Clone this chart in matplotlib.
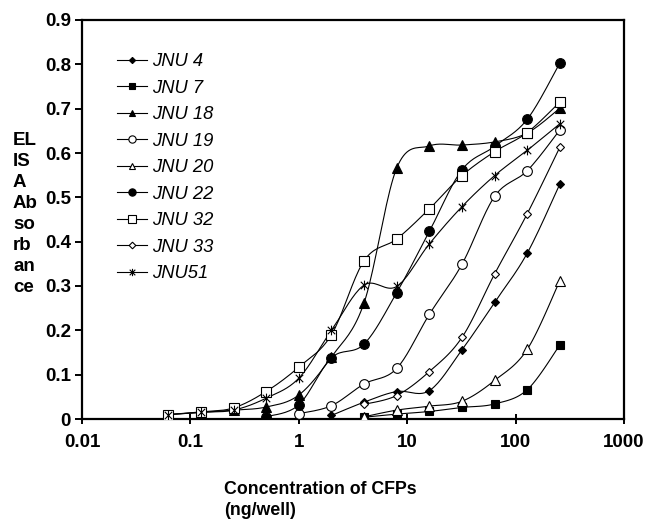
import numpy as np
import matplotlib
matplotlib.use('Agg')
import matplotlib.pyplot as plt
from matplotlib.path import Path
from matplotlib.ticker import FixedLocator, FixedFormatter, NullLocator
from matplotlib.lines import Line2D

# ---------------- data ----------------
conc = [0.0625, 0.125, 0.25, 0.5, 1, 2, 4, 8, 16, 32, 64, 128, 256]
n = np.nan
jnu4 = [n, n, n, n, n, 0.008, 0.038, 0.062, 0.064, 0.156, 0.263, 0.374, 0.530]
jnu7 = [n, n, n, n, n, n, 0.004, 0.011, 0.017, 0.026, 0.034, 0.066, 0.167]
jnu18 = [0.010, 0.015, 0.020, 0.027, 0.054, 0.140, 0.262, 0.566, 0.616, 0.618, 0.625, 0.645, 0.701]
jnu19 = [n, n, n, n, 0.012, 0.030, 0.079, 0.114, 0.236, 0.349, 0.502, 0.560, 0.652]
jnu20 = [n, n, n, n, n, n, 0.005, 0.020, 0.029, 0.040, 0.087, 0.157, 0.312]
jnu22 = [n, n, n, 0.005, 0.032, 0.138, 0.169, 0.285, 0.423, 0.562, 0.615, 0.676, 0.803]
jnu32 = [0.010, 0.016, 0.025, 0.062, 0.117, 0.190, 0.357, 0.406, 0.474, 0.549, 0.603, 0.646, 0.715]
jnu33 = [n, n, n, n, n, n, 0.033, 0.053, 0.107, 0.184, 0.327, 0.463, 0.613]
jnu51 = [0.010, 0.015, 0.020, 0.047, 0.092, 0.200, 0.302, 0.299, 0.395, 0.479, 0.549, 0.606, 0.666]

labels = ['JNU 4', 'JNU 7', 'JNU 18', 'JNU 19', 'JNU 20', 'JNU 22', 'JNU 32', 'JNU 33', 'JNU51']
series = [jnu4, jnu7, jnu18, jnu19, jnu20, jnu22, jnu32, jnu33, jnu51]

xticks = [0.01, 0.1, 1, 10, 100, 1000]
xticklabels = ['0.01', '0.1', '1', '10', '100', '1000']
yticks = [0, 0.1, 0.2, 0.3, 0.4, 0.5, 0.6, 0.7, 0.8, 0.9]
yticklabels = ['0', '0.1', '0.2', '0.3', '0.4', '0.5', '0.6', '0.7', '0.8', '0.9']

# ---------------- style ----------------
star_path = Path([(-1, -1), (1, 1), (-1, 1), (1, -1), (0, -1.3), (0, 1.3)],
                 [Path.MOVETO, Path.LINETO, Path.MOVETO, Path.LINETO, Path.MOVETO, Path.LINETO])
styles = [
    dict(marker='D', ms=4.2, mfc='black'),
    dict(marker='s', ms=6.0, mfc='black'),
    dict(marker='^', ms=6.5, mfc='black'),
    dict(marker='o', ms=7.0, mfc='white'),
    dict(marker='^', ms=6.5, mfc='white'),
    dict(marker='o', ms=7.0, mfc='black'),
    dict(marker='s', ms=7.0, mfc='white'),
    dict(marker='D', ms=4.5, mfc='white'),
    dict(marker=star_path, ms=7.0, mfc='black'),
]

plt.rcParams['font.family'] = ['Liberation Sans', 'DejaVu Sans']

fig = plt.figure(figsize=(6.47, 5.19), dpi=100)
ax = fig.add_axes([82 / 647, 1 - 419 / 519, (624 - 82) / 647, (419 - 20) / 519])
ax.set_xscale('log')
ax.set_xlim(0.01, 1000)
ax.set_ylim(0, 0.9)


def smooth(xs, ys, npts=20):
    """Catmull-Rom style smoothing done in display space."""
    pts = ax.transData.transform(np.column_stack([xs, ys]))
    m = len(pts)
    if m < 3:
        return xs, ys
    out = [pts[0]]
    for i in range(m - 1):
        p0 = pts[i - 1] if i > 0 else pts[i]
        p1 = pts[i]
        p2 = pts[i + 1]
        p3 = pts[i + 2] if i + 2 < m else pts[i + 1]
        c1 = p1 + (p2 - p0) / 6.0
        c2 = p2 - (p3 - p1) / 6.0
        t = np.linspace(0, 1, npts)[1:, None]
        seg = ((1 - t) ** 3) * p1 + 3 * ((1 - t) ** 2) * t * c1 + 3 * (1 - t) * t ** 2 * c2 + t ** 3 * p2
        out.extend(seg)
    out = np.array(out)
    d = ax.transData.inverted().transform(out)
    return d[:, 0], d[:, 1]


handles = []
for vals, lab, st in zip(series, labels, styles):
    xa = np.array(conc, dtype=float)
    ya = np.array(vals, dtype=float)
    ok = ~np.isnan(ya)
    xa, ya = xa[ok], ya[ok]
    sx, sy = smooth(xa, ya)
    ax.plot(sx, sy, color='black', lw=0.8, zorder=2)
    ax.plot(xa, ya, ls='none', marker=st['marker'], ms=st['ms'], mfc=st['mfc'],
            mec='black', mew=0.8, zorder=3)
    handles.append(Line2D([], [], color='black', lw=0.8, marker=st['marker'],
                          ms=st['ms'] * 0.75, mfc=st['mfc'], mec='black', mew=0.8, label=lab))

for s in ax.spines.values():
    s.set_linewidth(1.6)

ax.xaxis.set_major_locator(FixedLocator(xticks))
ax.xaxis.set_major_formatter(FixedFormatter(xticklabels))
ax.xaxis.set_minor_locator(NullLocator())
ax.set_yticks(yticks)
ax.set_yticklabels(yticklabels)
ax.tick_params(axis='x', direction='inout', length=7, width=1.4, pad=7, labelsize=13.5)
ax.tick_params(axis='y', direction='out', length=5, width=1.4, pad=3, labelsize=13.5)
for lbl in ax.get_xticklabels() + ax.get_yticklabels():
    lbl.set_fontweight('bold')

leg = ax.legend(handles=handles, loc='upper left', bbox_to_anchor=(0.064, 0.917),
                frameon=False, borderpad=0, borderaxespad=0, handlelength=1.65,
                handletextpad=0.3, labelspacing=0.52,
                prop=dict(family='Liberation Sans', style='italic', size=13.2))

fig.text(13 / 647, 1 - 214 / 519, 'EL\nIS\nA\nAb\nso\nrb\nan\nce', ha='left', va='center',
         fontsize=13.5, fontweight='bold', linespacing=1.3)
fig.text(224 / 647, 1 - 500 / 519, 'Concentration of CFPs\n(ng/well)', ha='left', va='center',
         fontsize=12.8, fontweight='bold', linespacing=1.25)

fig.savefig('out.png', dpi=100)
